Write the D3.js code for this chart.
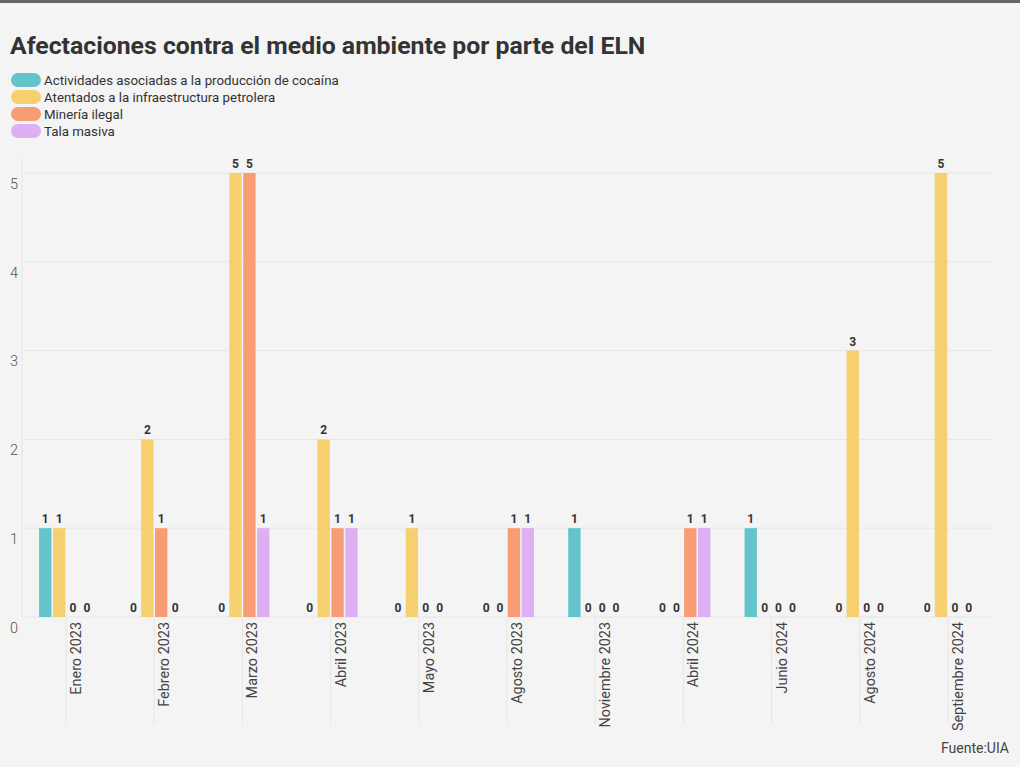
<!DOCTYPE html>
<html>
<head>
<meta charset="utf-8">
<script src="https://cdn.jsdelivr.net/npm/d3@7"></script>
<style>
  html, body { margin: 0; padding: 0; background: #f4f4f4; }
  svg { display: block; font-family: Roboto, "Noto Sans", sans-serif; }
</style>
</head>
<body>
<svg id="chart" width="1020" height="767"></svg>
<script>
const categories = ["Enero 2023", "Febrero 2023", "Marzo 2023", "Abril 2023", "Mayo 2023", "Agosto 2023",
  "Noviembre 2023", "Abril 2024", "Junio 2024", "Agosto 2024", "Septiembre 2024"];
const seriesNames = ["Actividades asociadas a la producción de cocaína", "Atentados a la infraestructura petrolera",
  "Minería ilegal", "Tala masiva"];
const seriesColors = ["#63c4cc", "#f6d06f", "#f89c75", "#dcb0f2"];
const cocaina    = [1, 0, 0, 0, 0, 0, 1, 0, 1, 0, 0];
const atentados  = [1, 2, 5, 2, 1, 0, 0, 0, 0, 3, 5];
const mineria    = [0, 1, 5, 1, 0, 1, 0, 1, 0, 0, 0];
const tala       = [0, 0, 1, 1, 0, 1, 0, 1, 0, 0, 0];
const yTicks = [0, 1, 2, 3, 4, 5];
const titleText = "Afectaciones contra el medio ambiente por parte del ELN";
const sourceText = "Fuente:UIA";

const seriesValues = [cocaina, atentados, mineria, tala];

const svg = d3.select("#chart");
const W = 1020, H = 767;

svg.append("rect").attr("width", W).attr("height", H).attr("fill", "#f4f4f4");
svg.append("rect").attr("width", W).attr("height", 3).attr("fill", "#666");

svg.append("text").attr("x", 10).attr("y", 54)
  .attr("font-size", 24.8).attr("font-weight", 700).attr("fill", "#333")
  .text(titleText);

// legend
const leg = svg.append("g");
seriesNames.forEach((name, i) => {
  const yy = 80 + i * 17;
  leg.append("rect").attr("x", 11).attr("y", yy - 7).attr("width", 30).attr("height", 14)
    .attr("rx", 7).attr("fill", seriesColors[i]);
  leg.append("text").attr("x", 44).attr("y", yy + 4.5).attr("font-size", 13.3)
    .attr("fill", "#333").text(name);
});

const left = 22, right = 992;
const x0 = d3.scaleBand().domain(categories).range([left, right]).paddingInner(0).paddingOuter(0);
const x1 = d3.scaleBand().domain(d3.range(seriesNames.length))
  .range([x0.bandwidth() / 2 - 27, x0.bandwidth() / 2 + 27]).paddingInner(0.11);
const y = d3.scaleLinear().domain([0, 5]).range([617, 173]);

// grid lines
const grid = svg.append("g");
grid.selectAll("line.h").data(yTicks).join("line")
  .attr("x1", left).attr("x2", right)
  .attr("y1", d => y(d)).attr("y2", d => y(d))
  .attr("stroke", "#e6e6e6").attr("stroke-width", 1);
grid.append("line").attr("x1", left).attr("x2", left).attr("y1", 158).attr("y2", 617)
  .attr("stroke", "#e6e6e6");
grid.selectAll("line.v").data(categories).join("line")
  .attr("x1", d => x0(d) + x0.bandwidth() / 2).attr("x2", d => x0(d) + x0.bandwidth() / 2)
  .attr("y1", 617).attr("y2", 724)
  .attr("stroke", "#e6e6e6");

// y axis labels
const yAxis = d3.axisLeft(y).tickValues(yTicks).tickSize(0).tickFormat(d3.format("d"));
const yg = svg.append("g").attr("transform", `translate(${left},0)`).call(yAxis);
yg.select(".domain").remove();
yg.selectAll("text").attr("x", -12).attr("dy", "1.05em").attr("text-anchor", "start")
  .attr("font-family", "Roboto").attr("font-weight", 300).attr("font-size", 14.5).attr("fill", "#555");

// x axis labels
const xAxis = d3.axisBottom(x0).tickSize(0);
const xg = svg.append("g").attr("transform", "translate(0,617)").call(xAxis);
xg.select(".domain").remove();
xg.selectAll("text")
  .attr("font-family", "Roboto").attr("font-size", 14.4).attr("fill", "#444")
  .attr("text-anchor", "end")
  .attr("transform", "translate(15,5) rotate(-90)")
  .attr("x", 0).attr("y", 0).attr("dy", 0);

// bars
const groups = svg.append("g").selectAll("g").data(categories).join("g")
  .attr("transform", d => `translate(${x0(d)},0)`);
groups.each(function(cat, ci) {
  const g = d3.select(this);
  seriesValues.forEach((vals, si) => {
    const v = vals[ci];
    g.append("rect").attr("x", x1(si)).attr("width", x1.bandwidth())
      .attr("y", y(v)).attr("height", y(0) - y(v)).attr("fill", seriesColors[si]);
    g.append("text").attr("x", x1(si) + x1.bandwidth() / 2).attr("y", y(v) - 5)
      .attr("text-anchor", "middle").attr("font-size", 12).attr("font-weight", 700)
      .attr("fill", "#333").text(v);
  });
});

svg.append("text").attr("x", 1009).attr("y", 753).attr("text-anchor", "end")
  .attr("font-size", 14).attr("fill", "#444").text(sourceText);
</script>
</body>
</html>
